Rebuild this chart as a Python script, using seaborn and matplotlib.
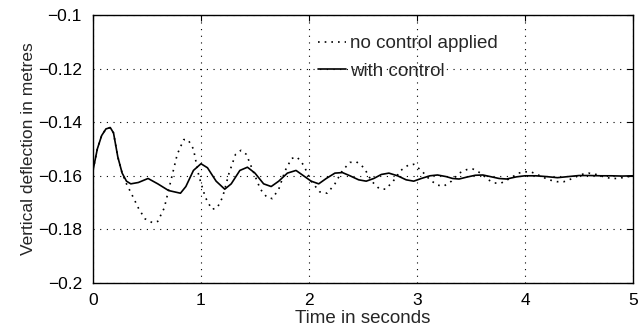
import matplotlib
matplotlib.use('Agg')
import matplotlib.pyplot as plt
import seaborn as sns

# time (s) and vertical deflection (m)
t_free = [0, 0.04, 0.08, 0.12, 0.16, 0.19, 0.23, 0.27, 0.31, 0.36, 0.42, 0.48, 0.55, 0.6,
          0.66, 0.72, 0.78, 0.84, 0.88, 0.93, 0.98, 1.04, 1.1, 1.15, 1.2, 1.26, 1.32, 1.37,
          1.42, 1.48, 1.55, 1.61, 1.66, 1.72, 1.78, 1.84, 1.89, 1.95, 2.02, 2.1, 2.17, 2.24,
          2.31, 2.38, 2.44, 2.51, 2.58, 2.65, 2.71, 2.78, 2.85, 2.92, 2.97, 3.04, 3.12, 3.19,
          3.25, 3.32, 3.39, 3.46, 3.52, 3.59, 3.66, 3.72, 3.78, 3.86, 3.94, 4.0, 4.06, 4.14,
          4.22, 4.3, 4.36, 4.44, 4.52, 4.59, 4.66, 4.74, 4.8, 4.86, 4.93, 5.0]
y_free = [-0.158, -0.150, -0.145, -0.1425, -0.142, -0.144, -0.153, -0.159, -0.163, -0.167,
          -0.172, -0.176, -0.1775, -0.177, -0.172, -0.162, -0.152, -0.1465, -0.1465, -0.150,
          -0.160, -0.168, -0.1725, -0.172, -0.168, -0.159, -0.152, -0.1505, -0.152, -0.158,
          -0.165, -0.168, -0.1685, -0.165, -0.158, -0.1535, -0.153, -0.156, -0.162, -0.166,
          -0.1665, -0.163, -0.158, -0.155, -0.1548, -0.157, -0.162, -0.1648, -0.165, -0.162,
          -0.158, -0.156, -0.1557, -0.158, -0.1615, -0.1635, -0.1638, -0.162, -0.159, -0.1577,
          -0.1575, -0.159, -0.1615, -0.1627, -0.1627, -0.161, -0.159, -0.1585, -0.1586, -0.160,
          -0.1615, -0.1622, -0.1622, -0.161, -0.1595, -0.159, -0.1595, -0.1605, -0.161, -0.161,
          -0.1605, -0.160]

t_ctrl = [0, 0.04, 0.08, 0.12, 0.16, 0.19, 0.23, 0.27, 0.31, 0.35, 0.42, 0.51, 0.6, 0.7,
          0.81, 0.86, 0.93, 1.0, 1.06, 1.14, 1.22, 1.28, 1.36, 1.43, 1.5, 1.58, 1.65, 1.72,
          1.8, 1.88, 1.95, 2.02, 2.09, 2.16, 2.24, 2.31, 2.38, 2.46, 2.53, 2.6, 2.67, 2.74,
          2.82, 2.9, 2.97, 3.04, 3.12, 3.19, 3.27, 3.33, 3.39, 3.46, 3.54, 3.61, 3.68, 3.76,
          3.83, 3.92, 4.0, 4.1, 4.2, 4.3, 4.4, 4.5, 4.6, 4.7, 4.8, 4.9, 5.0]
y_ctrl = [-0.158, -0.150, -0.145, -0.1425, -0.142, -0.144, -0.153, -0.159, -0.162, -0.163,
          -0.1625, -0.161, -0.163, -0.1655, -0.1665, -0.164, -0.158, -0.1555, -0.157, -0.162,
          -0.165, -0.163, -0.158, -0.1568, -0.159, -0.163, -0.164, -0.162, -0.159, -0.158,
          -0.160, -0.162, -0.163, -0.161, -0.159, -0.1588, -0.160, -0.1615, -0.162, -0.161,
          -0.1595, -0.159, -0.160, -0.1615, -0.162, -0.161, -0.160, -0.1597, -0.1603, -0.1610,
          -0.1612, -0.1605, -0.1598, -0.1597, -0.1603, -0.1610, -0.1612, -0.1604, -0.1600,
          -0.1600, -0.1603, -0.1607, -0.1603, -0.1599, -0.1599, -0.1600, -0.1600, -0.1601,
          -0.1600]

x_ticks = [0, 1, 2, 3, 4, 5]
y_ticks = [-0.2, -0.18, -0.16, -0.14, -0.12, -0.1]
y_ticklabels = ['\u22120.2', '\u22120.18', '\u22120.16', '\u22120.14', '\u22120.12', '\u22120.1']

sns.set_style('white')
plt.rcParams['font.family'] = ['Liberation Sans', 'DejaVu Sans']

fig = plt.figure(figsize=(6.4, 3.32), dpi=100)
ax = fig.add_axes([0.1453, 0.1476, 0.8437, 0.8072])

sns.lineplot(x=t_free, y=y_free, ax=ax, color='k', lw=1.2, linestyle=(0, (1, 3)),
             label='no control applied', sort=False)
sns.lineplot(x=t_ctrl, y=y_ctrl, ax=ax, color='k', lw=1.2,
             label='with control', sort=False)

ax.set_xlim(0, 5)
ax.set_ylim(-0.2, -0.1)
ax.set_xticks(x_ticks)
ax.set_yticks(y_ticks)
ax.set_yticklabels(y_ticklabels)
ax.grid(True, color='k', linestyle=(0, (1, 5)), linewidth=0.8)
ax.tick_params(direction='in', length=4, top=True, right=True, labelsize=12.5,
               colors='k')
ax.tick_params(axis='x', pad=7)
ax.tick_params(axis='y', pad=8)
for s in ax.spines.values():
    s.set_color('k')
    s.set_linewidth(1.0)

ax.set_xlabel('Time in seconds', fontsize=13.5, labelpad=2)
ax.set_ylabel('Vertical deflection in metres', fontsize=12.5, labelpad=1)

leg = ax.legend(loc='upper left', bbox_to_anchor=(0.40, 0.96), frameon=False,
                fontsize=13.5, handlelength=1.5, handletextpad=0.2, labelspacing=0.55,
                borderpad=0)

fig.savefig('out.png', dpi=100)
